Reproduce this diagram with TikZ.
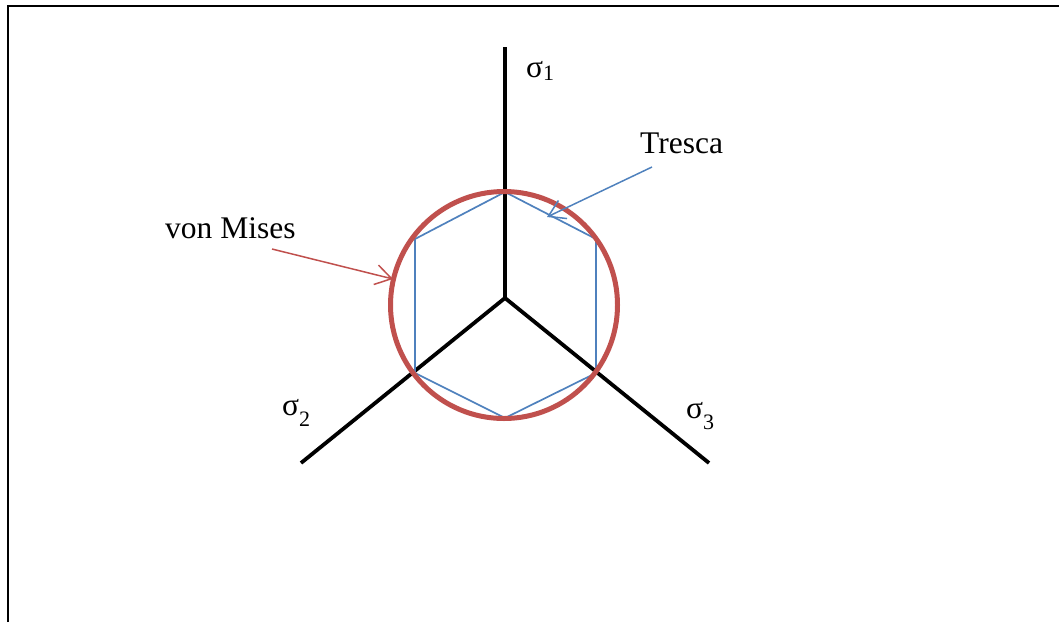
\documentclass[tikz,border=0pt]{standalone}
\usepackage{fontspec}
\setmainfont{Liberation Serif}
\usetikzlibrary{arrows.meta}
\definecolor{vmred}{HTML}{C0504D}
\definecolor{trblue}{HTML}{4F81BD}
\tikzset{
  axis/.style={line width=3.8pt,black},
  lbl/.style={font=\fontsize{31.5}{36}\selectfont,inner sep=0pt},
  frame/.style={line width=2pt,black},
  callout/.style={line width=1.5pt,-{Straight Barb[length=16pt,width=20pt,line width=1.5pt]}}
}
\newcommand{\sig}[2]{σ\raisebox{#2}{\fontsize{22}{25}\selectfont #1}}
\begin{document}
\begin{tikzpicture}[x=1pt,y=-1pt]
\useasboundingbox (0,0) rectangle (1059,622);
% frame
\coordinate (F1) at (8,622);
\coordinate (F2) at (8,6);
\coordinate (F3) at (1059,6);
\draw[frame] (F1) -- (F2) -- (F3);
% axes
\coordinate (O) at (505,298);
\coordinate (A1) at (505,47);
\coordinate (A2) at (301,463);
\coordinate (A3) at (709,463);
\draw[axis] (O) -- (A1);
\draw[axis] (O) -- (A2);
\draw[axis] (O) -- (A3);
% hexagon (Tresca)
\coordinate (H1) at (505,192);
\coordinate (H2) at (415,239);
\coordinate (H3) at (415,373);
\coordinate (H4) at (505,418);
\coordinate (H5) at (596,373);
\coordinate (H6) at (596,239);
\draw[trblue,line width=1.7pt,line join=round] (H1) -- (H2) -- (H3) -- (H4) -- (H5) -- (H6) -- cycle;
% circle (von Mises)
\node[circle,draw=vmred,line width=5pt,minimum size=227pt,inner sep=0pt] (VM) at (504,305) {};
% labels
\node[lbl,anchor=base west] (S1) at (526,77) {\sig{1}{-3pt}};
\node[lbl,anchor=base west] (S2) at (282,415) {\sig{2}{-11pt}};
\node[lbl,anchor=base west] (S3) at (686,418) {\sig{3}{-11pt}};
\node[lbl,anchor=base west] (TR) at (640,153) {Tresca};
\node[lbl,anchor=base west] (VL) at (165,238) {von Mises};
% callouts
\coordinate (TRs) at (652,167);
\coordinate (TRe) at (547,217);
\draw[callout,trblue] (TRs) -- (TRe);
\coordinate (VMs) at (272,249);
\coordinate (VMe) at (393,279);
\draw[callout,vmred] (VMs) -- (VMe);
\end{tikzpicture}
\end{document}
